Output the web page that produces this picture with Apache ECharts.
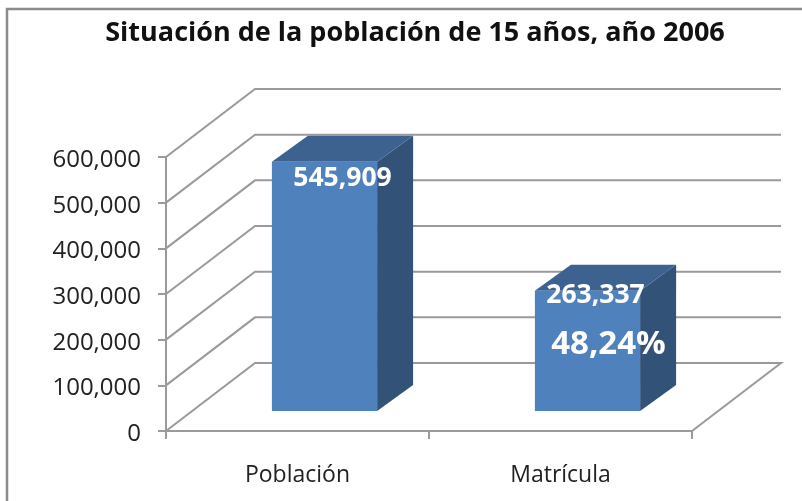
<!DOCTYPE html>
<html>
<head>
<meta charset="utf-8">
<style>
  html, body { margin: 0; padding: 0; background: #fff; }
  #main { width: 802px; height: 501px; }
</style>
<script src="https://cdn.jsdelivr.net/npm/echarts@6/dist/echarts.min.js"></script>
</head>
<body>
<div id="main"></div>
<script>
const titleText = 'Situación de la población de 15 años, año 2006';
const categories = ['Población', 'Matrícula'];
const values = [545909, 263337];
const valueLabels = ['545,909', '263,337'];
const noteLabels = ['', '48,24%'];
const yTicks = [0, 100000, 200000, 300000, 400000, 500000, 600000];

const font = '"Open Sans", "Noto Sans", sans-serif';
const lineColor = '#9a9a9a';
// fake 3d offsets, px
const wallDx = 89, wallDy = -68;
const barOffDx = 27, barOffDy = -20;
const barDx = 36, barDy = -26;

function renderWall(params, api) {
  const v = api.value(0);
  const box = params.coordSys;
  const y = api.coord([0, v])[1];
  const left = box.x, right = box.x + box.width;
  const pts = [[left, y], [left + wallDx, y + wallDy], [right + wallDx, y + wallDy]];
  if (v === 0) pts.push([right, y]);
  return {
    type: 'polyline',
    shape: { points: pts },
    style: { fill: 'none', stroke: lineColor, lineWidth: 2 },
    silent: true
  };
}

function renderBar(params, api) {
  const i = api.value(0);
  const top = api.coord([i, api.value(1)]);
  const base = api.coord([i, 0]);
  const w = api.size([1, 0])[0] * 0.4;
  const x0 = top[0] - w / 2 + barOffDx;
  const x1 = x0 + w;
  const yT = top[1] + barOffDy;
  const yB = base[1] + barOffDy;
  const children = [
    { type: 'polygon', shape: { points: [[x1, yT], [x1 + barDx, yT + barDy], [x1 + barDx, yB + barDy], [x1, yB]] }, style: { fill: '#325278' } },
    { type: 'polygon', shape: { points: [[x0, yT], [x0 + barDx, yT + barDy], [x1 + barDx, yT + barDy], [x1, yT]] }, style: { fill: '#3e628f' } },
    { type: 'rect', shape: { x: x0, y: yT, width: w, height: yB - yT }, style: { fill: '#4f81bd' } }
  ];
  children.push({
    type: 'text',
    style: {
      text: valueLabels[i],
      x: x0 + w / 2 + (i === 0 ? 18 : 8),
      y: yT + (i === 0 ? 17 : 5),
      align: 'center',
      verticalAlign: 'middle',
      fill: '#fff',
      font: 'bold 26.5px ' + font
    }
  });
  if (noteLabels[i]) {
    children.push({
      type: 'text',
      style: {
        text: noteLabels[i],
        x: x0 + w / 2 + 21,
        y: yT + 54,
        align: 'center',
        verticalAlign: 'middle',
        fill: '#fff',
        font: 'bold 33px ' + font
      }
    });
  }
  return { type: 'group', children: children };
}

const chart = echarts.init(document.getElementById('main'), null, { renderer: 'canvas' });
chart.setOption({
  animation: false,
  backgroundColor: '#fff',
  title: {
    text: titleText,
    left: 410,
    top: 15,
    textAlign: 'center',
    textStyle: { fontFamily: font, fontWeight: 'bold', fontSize: 27, color: '#111' }
  },
  graphic: [
    {
      type: 'polyline',
      shape: { points: [[7, 501], [7, 9], [802, 9]] },
      style: { fill: 'none', stroke: '#8c8c8c', lineWidth: 2.5 },
      silent: true
    }
  ],
  grid: { left: 166, top: 157, width: 526, height: 274 },
  xAxis: {
    type: 'category',
    data: categories,
    axisLine: { show: true, lineStyle: { color: lineColor, width: 2 } },
    axisTick: { show: true, alignWithLabel: false, length: 8, lineStyle: { color: lineColor, width: 2 } },
    axisLabel: { fontFamily: font, fontSize: 23, color: '#222', margin: 33 }
  },
  yAxis: {
    type: 'value',
    min: 0,
    max: 600000,
    interval: 100000,
    splitLine: { show: false },
    axisLine: { show: true, lineStyle: { color: lineColor, width: 2 } },
    axisTick: { show: true, length: 8, lineStyle: { color: lineColor, width: 2 } },
    axisLabel: {
      fontFamily: font,
      fontSize: 24,
      color: '#222',
      margin: 25,
      verticalAlign: 'top',
      lineHeight: 6,
      formatter: (v) => v.toLocaleString('en-US')
    }
  },
  series: [
    {
      type: 'custom',
      name: 'wall',
      coordinateSystem: 'cartesian2d',
      clip: false,
      silent: true,
      z: 1,
      renderItem: renderWall,
      encode: { y: 0 },
      data: yTicks.map((v) => [v])
    },
    {
      type: 'custom',
      name: 'bars',
      coordinateSystem: 'cartesian2d',
      clip: false,
      z: 3,
      renderItem: renderBar,
      encode: { x: 0, y: 1 },
      data: values.map((v, i) => [i, v])
    }
  ]
});
</script>
</body>
</html>
